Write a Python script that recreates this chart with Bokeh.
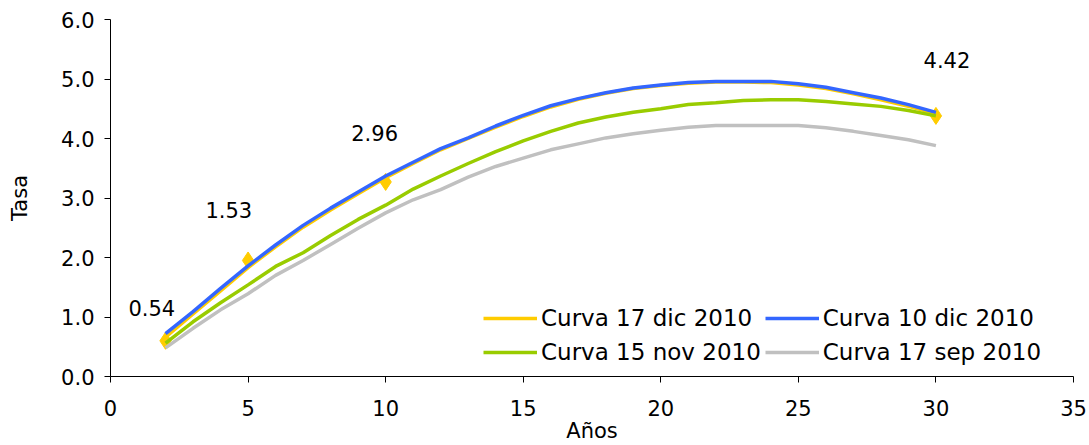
from bokeh.plotting import figure
from bokeh.models import Legend, LegendItem, SingleIntervalTicker, NumeralTickFormatter, Label
from bokeh.embed import file_html
from bokeh.resources import INLINE

# ---- data ----
years = [2, 3, 4, 5, 6, 7, 8, 9, 10, 11, 12, 13, 14, 15, 16, 17, 18, 19, 20,
         21, 22, 23, 24, 25, 26, 27, 28, 29, 30]
curva_17dic = [0.66, 1.05, 1.44, 1.83, 2.18, 2.51, 2.80, 3.07, 3.34, 3.58, 3.81, 4.00, 4.19, 4.37, 4.53,
               4.66, 4.76, 4.84, 4.89, 4.93, 4.95, 4.95, 4.94, 4.90, 4.84, 4.75, 4.65, 4.54, 4.42]
curva_10dic = [0.72, 1.09, 1.48, 1.86, 2.21, 2.54, 2.83, 3.10, 3.37, 3.60, 3.83, 4.01, 4.21, 4.39, 4.55,
               4.67, 4.77, 4.85, 4.90, 4.94, 4.96, 4.96, 4.96, 4.92, 4.86, 4.77, 4.68, 4.57, 4.44]
curva_15nov = [0.56, 0.92, 1.24, 1.54, 1.85, 2.08, 2.37, 2.64, 2.88, 3.15, 3.37, 3.58, 3.78, 3.96, 4.12,
               4.26, 4.36, 4.44, 4.50, 4.57, 4.60, 4.64, 4.65, 4.65, 4.62, 4.58, 4.54, 4.47, 4.38]
curva_17sep = [0.48, 0.81, 1.12, 1.39, 1.70, 1.95, 2.22, 2.49, 2.75, 2.97, 3.14, 3.35, 3.53, 3.67, 3.81,
               3.91, 4.01, 4.08, 4.14, 4.19, 4.22, 4.22, 4.22, 4.22, 4.18, 4.12, 4.05, 3.98, 3.88]

marker_x = [2, 5, 10, 30]
marker_y = [0.60, 1.95, 3.27, 4.38]
label_text = ["0.54", "1.53", "2.96", "4.42"]
label_x = [1.5, 4.3, 9.6, 30.4]
label_y = [1.15, 2.8, 4.1, 5.32]

x_title = "Años"
y_title = "Tasa"
series_names = ["Curva 17 dic 2010", "Curva 10 dic 2010", "Curva 15 nov 2010", "Curva 17 sep 2010"]
series_vals = [curva_17dic, curva_10dic, curva_15nov, curva_17sep]
colors = ["#FFCC00", "#3366FF", "#99CC00", "#C0C0C0"]

FONT = "DejaVu Sans"

p = figure(width=1089, height=445, x_range=(0, 35), y_range=(0, 6),
           output_backend="svg", toolbar_location=None,
           min_border_left=110, min_border_right=16, min_border_top=19, min_border_bottom=66)
p.outline_line_color = None
p.xgrid.visible = False
p.ygrid.visible = False
p.background_fill_color = "white"

# markers of first series (behind lines)
p.scatter(marker_x, marker_y, marker="diamond", size=17, color=colors[0])

renderers = []
for name, vals, c in zip(series_names, series_vals, colors):
    r = p.line(years, vals, line_color=c, line_width=3.5)
    renderers.append((name, r))

for t, lx, ly in zip(label_text, label_x, label_y):
    p.add_layout(Label(x=lx, y=ly, text=t, text_align="center", text_baseline="middle",
                       text_font=FONT, text_font_size="21px", text_color="#000000"))

# axes
for ax in (p.xaxis[0], p.yaxis[0]):
    ax.axis_line_color = "#000000"
    ax.major_tick_line_color = "#000000"
    ax.minor_tick_line_color = None
    ax.major_tick_in = 0
    ax.major_tick_out = 6
    ax.major_label_text_font = FONT
    ax.major_label_text_font_size = "21px"
    ax.major_label_text_color = "#000000"
    ax.axis_label_text_font = FONT
    ax.axis_label_text_font_size = "21px"
    ax.axis_label_text_font_style = "normal"
    ax.axis_label_text_color = "#000000"

p.xaxis.major_label_text_line_height = 1.0
p.xaxis.axis_label_text_line_height = 1.0
p.xaxis.ticker = SingleIntervalTicker(interval=5)
p.yaxis.ticker = SingleIntervalTicker(interval=1)
p.yaxis.formatter = NumeralTickFormatter(format="0.0")
p.xaxis.axis_label = x_title
p.yaxis.axis_label = y_title
p.xaxis.major_label_standoff = 17
p.yaxis.major_label_standoff = 10
p.xaxis.axis_label_standoff = 0
p.yaxis.axis_label_standoff = 26

legend = Legend(items=[LegendItem(label=n, renderers=[r]) for n, r in renderers],
                location=(373, 9), orientation="horizontal", ncols=2,
                glyph_width=54, glyph_height=30, label_height=30, label_standoff=4,
                spacing=4, padding=0, margin=0,
                label_text_font=FONT, label_text_font_size="23px", label_text_color="#000000",
                background_fill_alpha=0, border_line_color=None)
p.add_layout(legend, "center")

open("out.html", "w").write(file_html(p, INLINE))
